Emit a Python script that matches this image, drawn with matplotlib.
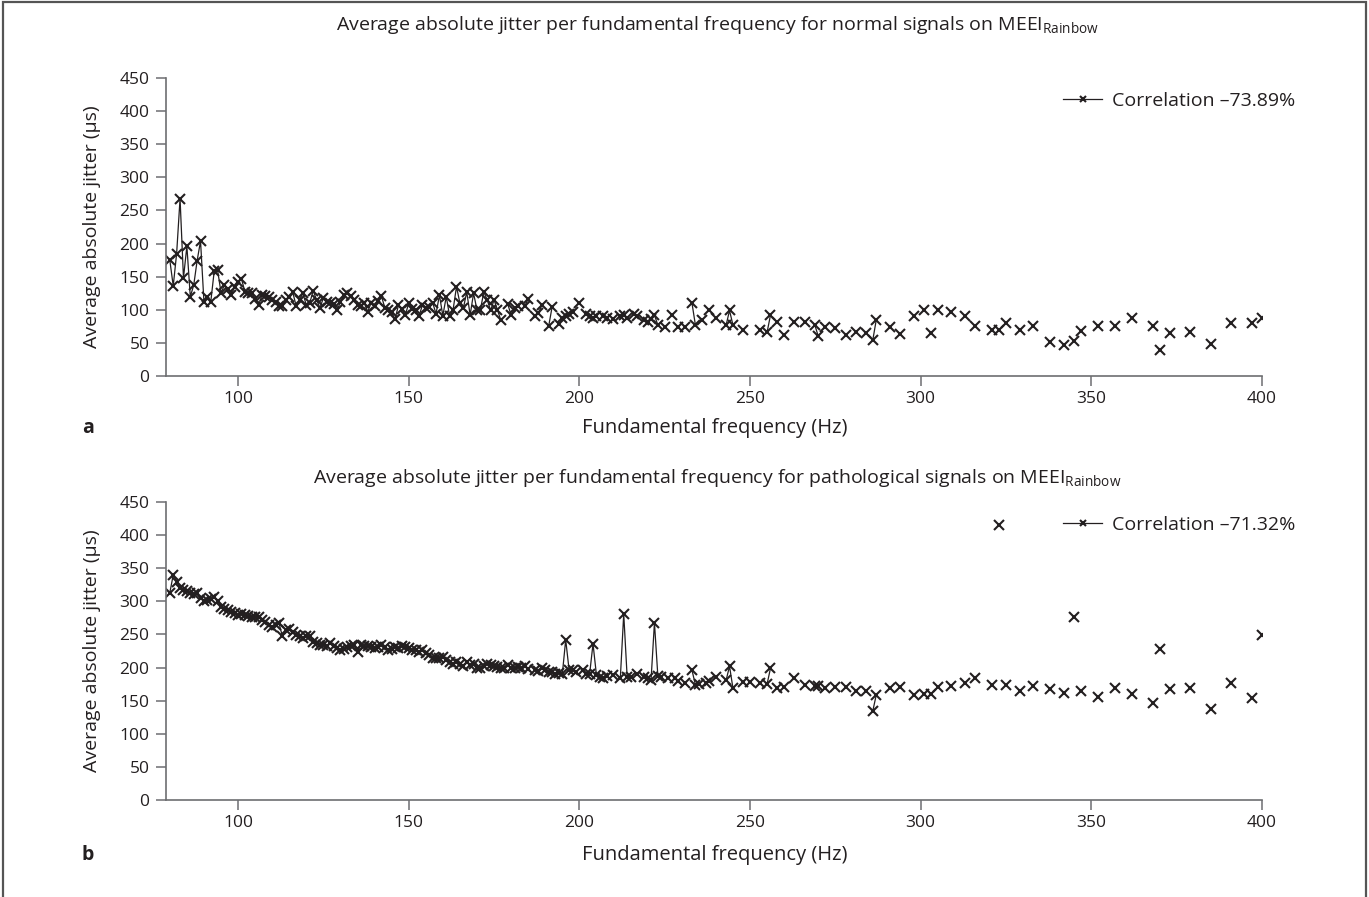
import numpy as np
import matplotlib
matplotlib.use('Agg')
import matplotlib.pyplot as plt
from matplotlib.patches import Rectangle

plt.rcParams['font.family'] = ['Open Sans', 'DejaVu Sans']
plt.rcParams['mathtext.fontset'] = 'custom'
plt.rcParams['mathtext.rm'] = 'Open Sans'
plt.rcParams['mathtext.it'] = 'Open Sans:italic'

# normal signals: fundamental frequency (Hz) -> mean absolute jitter (us)
freq_normal = [80, 81, 82, 83, 84, 85, 86, 87, 88, 89, 90, 91, 92, 93, 94, 95, 96, 97, 98, 99,
               100, 101, 102, 103, 104, 105, 106, 107, 108, 109, 110, 111, 112, 113, 114, 115, 116, 117, 118, 119,
               120, 121, 122, 123, 124, 125, 126, 127, 128, 129, 130, 131, 132, 133, 134, 135, 136, 137, 138, 139,
               140, 141, 142, 143, 144, 145, 146, 147, 148, 149, 150, 151, 152, 153, 154, 155, 156, 157, 158, 159,
               160, 161, 162, 163, 164, 165, 166, 167, 168, 169, 170, 171, 172, 173, 174, 175, 176, 177, 179,
               180, 181, 182, 184, 185, 187, 188, 189, 191, 192, 194, 195, 196, 197, 198,
               200, 202, 203, 204, 205, 207, 208, 210, 212, 213, 214, 216, 217, 219,
               220, 221, 222, 223, 225, 227, 229, 231, 233, 234, 236, 238, 240, 243, 244, 245, 248,
               253, 255, 256, 258, 260, 263, 266, 269, 270, 272, 275, 278, 281, 284, 286, 287, 291, 294, 298,
               301, 303, 305, 309, 313, 316, 321, 323, 325, 329, 333, 338, 342, 345, 347,
               352, 357, 362, 368, 370, 373, 379, 385, 391, 397, 400]
jitter_normal = [175, 136, 185, 268, 148, 196, 120, 137, 174, 204, 112, 120, 112, 158, 160, 126, 137, 131, 122, 135,
                 142, 147, 127, 126, 125, 117, 107, 122, 121, 120, 115, 112, 105, 105, 115, 120, 127, 106, 115, 125,
                 107, 110, 129, 115, 103, 118, 112, 110, 109, 99, 112, 122, 126, 121, 115, 107, 106, 110, 97, 111,
                 105, 114, 121, 103, 99, 96, 86, 107, 101, 92, 110, 101, 99, 90, 107, 103, 104, 111, 94, 122,
                 91, 120, 90, 100, 135, 110, 102, 127, 92, 125, 100, 100, 127, 115, 99, 115, 100, 84, 109,
                 92, 102, 105, 106, 116, 90, 95, 107, 75, 104, 79, 87, 90, 94, 97,
                 110, 94, 90, 88, 90, 91, 88, 86, 90, 92, 87, 94, 91, 85,
                 82, 86, 92, 77, 74, 92, 74, 74, 110, 77, 85, 100, 87, 77, 99, 77, 69,
                 70, 66, 92, 81, 62, 81, 81, 77, 60, 74, 72, 62, 67, 65, 55, 85, 74, 63, 90,
                 99, 65, 99, 96, 90, 75, 70, 70, 80, 70, 75, 52, 47, 53, 68,
                 76, 76, 88, 75, 40, 65, 67, 48, 80, 80, 88]

# pathological signals
freq_patho = [80, 81, 82, 83, 84, 85, 86, 87, 88, 89, 90, 91, 92, 93, 94, 95, 96, 97, 98, 99,
              100, 101, 102, 103, 104, 105, 106, 107, 108, 109, 110, 111, 112, 113, 114, 115, 116, 117, 118, 119,
              120, 121, 122, 123, 124, 125, 126, 127, 128, 129, 130, 131, 132, 133, 134, 135, 136, 137, 138, 139,
              140, 141, 142, 143, 144, 145, 146, 147, 148, 149, 150, 151, 152, 153, 154, 155, 156, 157, 158, 159,
              160, 161, 162, 163, 164, 165, 166, 167, 168, 169, 170, 171, 172, 173, 174, 175, 176, 177, 178, 179,
              180, 181, 182, 183, 184, 185, 187, 188, 189, 190, 191, 192, 193, 194, 195, 196, 197, 198, 199,
              201, 202, 203, 204, 205, 206, 207, 208, 210, 212, 213, 214, 215, 217, 219,
              220, 221, 222, 223, 224, 226, 228, 229, 231, 233, 234, 235, 237, 238, 240, 243, 244, 245, 248,
              250, 253, 255, 256, 258, 260, 263, 266, 269, 270, 272, 275, 278, 281, 284, 286, 287, 291, 294, 298,
              301, 303, 305, 309, 313, 316, 321, 323, 325, 329, 333, 338, 342, 345, 347,
              352, 357, 362, 368, 370, 373, 379, 385, 391, 397, 400]
jitter_patho = [313, 340, 330, 320, 317, 316, 312, 311, 312, 305, 300, 302, 303, 306, 300, 292, 289, 287, 284, 283,
                279, 281, 279, 278, 277, 277, 276, 272, 269, 264, 262, 264, 267, 247, 257, 259, 254, 249, 247, 244,
                247, 248, 239, 237, 234, 234, 232, 237, 233, 229, 227, 228, 231, 232, 234, 224, 234, 232, 232, 231,
                229, 231, 234, 231, 227, 228, 231, 229, 233, 231, 229, 227, 227, 224, 226, 222, 219, 214, 215, 214,
                216, 211, 208, 206, 209, 205, 202, 209, 204, 206, 199, 200, 202, 206, 204, 202, 201, 199, 200, 204,
                199, 199, 201, 200, 202, 198, 196, 195, 199, 196, 194, 194, 191, 192, 190, 242, 196, 197, 194,
                196, 190, 190, 236, 189, 186, 185, 187, 189, 184, 281, 186, 186, 190, 186,
                185, 181, 268, 187, 186, 185, 184, 180, 177, 196, 174, 175, 177, 180, 186, 181, 202, 169, 179,
                179, 177, 175, 199, 169, 171, 184, 174, 172, 172, 169, 171, 170, 165, 165, 135, 159, 169, 170, 159,
                160, 160, 170, 172, 177, 184, 174, 415, 174, 165, 172, 167, 162, 277, 165,
                155, 169, 160, 146, 228, 167, 169, 137, 176, 154, 249]

titles = ['Average absolute jitter per fundamental frequency for normal signals on MEEI$_{\\mathrm{Rainbow}}$',
          'Average absolute jitter per fundamental frequency for pathological signals on MEEI$_{\\mathrm{Rainbow}}$']
legend_labels = ['Correlation \u201373.89%', 'Correlation \u201371.32%']
panel_letters = ['a', 'b']

ink = '#231f20'
axis_grey = '#6d6e71'
grid = np.arange(79, 401)


def on_grid(freqs, vals):
    # missing frequencies become NaN so the line breaks there
    full = np.full(grid.shape, np.nan)
    full[np.array(freqs) - grid[0]] = vals
    return full


fig = plt.figure(figsize=(13.69, 8.97), dpi=100)
fig.patches.append(Rectangle((0.002, -0.01), 0.996, 1.008, transform=fig.transFigure,
                             fill=False, ec='#555555', lw=1.6))

axes_pos = [[0.1213, 0.5808, 0.8005, 0.3322], [0.1213, 0.1081, 0.8005, 0.3322]]
title_y = [1 - 25 / 897, 1 - 478 / 897]
xlabel_y = [1 - 428 / 897, 1 - 855 / 897]

for i, (freqs, vals) in enumerate([(freq_normal, jitter_normal), (freq_patho, jitter_patho)]):
    ax = fig.add_axes(axes_pos[i])
    ax.plot(grid, on_grid(freqs, vals), color=ink, lw=0.9, marker='x', ms=6.5, mew=1.5,
            label=legend_labels[i])
    ax.set_xlim(78.9, 400)
    ax.set_ylim(0, 450)
    ax.set_xticks([100, 150, 200, 250, 300, 350, 400])
    ax.set_yticks(np.arange(0, 451, 50))
    for side in ['top', 'right']:
        ax.spines[side].set_visible(False)
    for side in ['left', 'bottom']:
        ax.spines[side].set_color(axis_grey)
        ax.spines[side].set_linewidth(1.2)
    ax.tick_params(axis='both', direction='out', length=7, width=1.1, color=axis_grey,
                   labelsize=12.5, labelcolor=ink, pad=5)
    ax.tick_params(axis='x', pad=4)
    ax.set_ylabel('Average absolute jitter (\u00b5s)', fontsize=14, color=ink)
    ax.yaxis.set_label_coords(-0.059, 0.5)
    ax.legend(loc='center left', bbox_to_anchor=(0.81, 0.923), frameon=False, fontsize=14,
              handlelength=2.0, handletextpad=0.5, markerscale=0.7, borderpad=0, labelcolor=ink)

    fig.text(0.524, title_y[i], titles[i], ha='center', va='center', fontsize=14, color=ink)
    fig.text(0.522, xlabel_y[i], 'Fundamental frequency (Hz)', ha='center', va='center',
             fontsize=14.5, color=ink)
    fig.text(88 / 1369, xlabel_y[i], panel_letters[i], ha='center', va='center',
             fontsize=14, fontweight='bold', color=ink)

fig.savefig('out.png', dpi=100)
